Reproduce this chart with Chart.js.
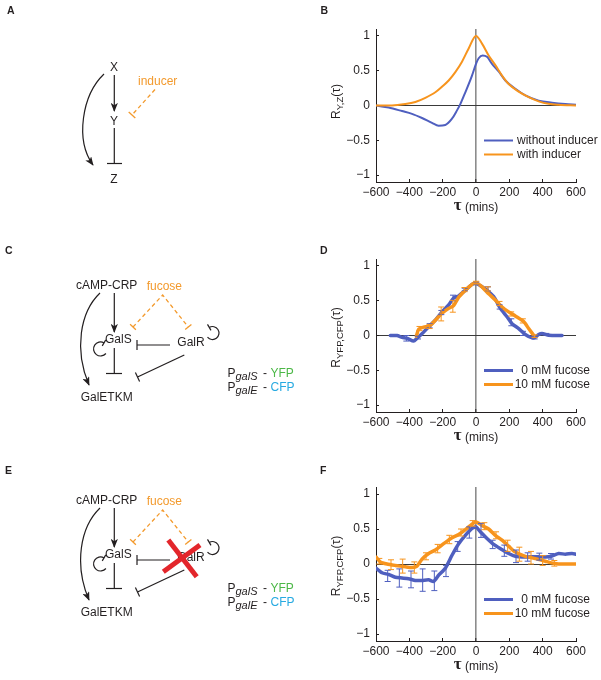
<!DOCTYPE html>
<html>
<head>
<meta charset="utf-8">
<script src="https://cdn.jsdelivr.net/npm/chart.js@4.4.1/dist/chart.umd.min.js"></script>
<style>
  body { margin: 0; background: #fff; }
  #page { position: relative; width: 601px; height: 680px; overflow: hidden; }
  canvas { position: absolute; left: 290px; }
  svg { position: absolute; left: 0; top: 0; pointer-events: none; }
</style>
</head>
<body>
<div id="page">
  <canvas id="chartB" width="311" height="221" style="top:1px"></canvas>
  <canvas id="chartD" width="311" height="221" style="top:231px"></canvas>
  <canvas id="chartF" width="311" height="222" style="top:459px"></canvas>

  <svg width="601" height="680" font-family="Liberation Sans, Arial, sans-serif" font-size="12" fill="#231f20">
    <defs>
      <marker id="arr" viewBox="0 0 10 8" refX="9" refY="4" markerWidth="9" markerHeight="7.5" orient="auto" markerUnits="userSpaceOnUse">
        <path d="M0,0 L10,4 L0,8 L2.5,4 z" fill="#231f20"/>
      </marker>
    </defs>

    <!-- panel letters -->
    <g font-weight="bold" font-size="10.5">
      <text x="7" y="14">A</text>
      <text x="320.5" y="13.5">B</text>
      <text x="5" y="254">C</text>
      <text x="320" y="254">D</text>
      <text x="5" y="474">E</text>
      <text x="320" y="474">F</text>
    </g>

    <!-- A: feed-forward loop -->
    <g stroke="#231f20" stroke-width="1.2" fill="none">
      <line x1="114.3" y1="75" x2="114.3" y2="111" marker-end="url(#arr)"/>
      <line x1="114.3" y1="128" x2="114.3" y2="163.5"/>
      <line x1="107" y1="163.5" x2="122" y2="163.5"/>
      <path d="M104,74 C82,95 75,140 93,165" marker-end="url(#arr)"/>
    </g>
    <g stroke="#f39a2d" stroke-width="1.3" fill="none">
      <line x1="155" y1="89.5" x2="132" y2="115" stroke-dasharray="4,3"/>
      <line x1="128.7" y1="112" x2="135.3" y2="118"/>
    </g>
    <g text-anchor="middle">
      <text x="114" y="71">X</text>
      <text x="114" y="124.5">Y</text>
      <text x="114" y="182.5">Z</text>
    </g>
    <text x="138" y="84.5" fill="#f39a2d">inducer</text>

    <!-- C: galactose network -->
    <g id="net">
      <g stroke="#231f20" stroke-width="1.2" fill="none">
        <line x1="114.3" y1="293" x2="114.3" y2="332" marker-end="url(#arr)"/>
        <path d="M100,293 C80,312 74,350 89,385" marker-end="url(#arr)"/>
        <line x1="114.3" y1="348" x2="114.3" y2="373.5"/>
        <line x1="106" y1="373.5" x2="122" y2="373.5"/>
        <path d="M105.9,353.5 A7,7 0 1 1 104,342.9"/>
        <line x1="105.75" y1="339.9" x2="102.25" y2="345.9"/>
        <path d="M207.5,337.2 A6.5,6.5 0 1 0 209.25,327.4"/>
        <line x1="207.5" y1="324.4" x2="211" y2="330.4"/>
        <line x1="170" y1="345" x2="137" y2="345"/>
        <line x1="137" y1="340" x2="137" y2="350"/>
        <line x1="184.3" y1="355" x2="137.5" y2="377"/>
        <line x1="135.4" y1="372.5" x2="139.6" y2="381.5"/>
      </g>
      <g stroke="#f39a2d" stroke-width="1.3" fill="none">
        <polyline points="133,327 162.7,295 188.3,327" stroke-dasharray="4,3"/>
        <line x1="130.1" y1="324.3" x2="135.9" y2="329.7"/>
        <line x1="185.2" y1="329.5" x2="191.4" y2="324.5"/>
      </g>
      <text x="106.7" y="289" text-anchor="middle">cAMP-CRP</text>
      <text x="146.7" y="290" fill="#f39a2d">fucose</text>
      <text x="105" y="342.5">GalS</text>
      <text x="177.3" y="346">GalR</text>
      <text x="106.7" y="401" text-anchor="middle">GalETKM</text>
      <text x="227.5" y="377.3">P</text>
      <text x="235.5" y="380.3" font-style="italic" font-size="11">galS</text>
      <text x="263" y="377.3">-</text>
      <text x="270.5" y="377.3" fill="#4db848">YFP</text>
      <text x="227.5" y="390.7">P</text>
      <text x="235.5" y="393.7" font-style="italic" font-size="11">galE</text>
      <text x="263" y="390.7">-</text>
      <text x="270.5" y="390.7" fill="#27aae1">CFP</text>
    </g>

    <!-- E: same network, galR deleted -->
    <use href="#net" y="215"/>
    <g stroke="#e3262b" stroke-width="5" stroke-linecap="butt">
      <line x1="168.3" y1="540" x2="196.7" y2="576.7"/>
      <line x1="163.3" y1="571.7" x2="200" y2="545"/>
    </g>
  </svg>
</div>

<script>
const blue = '#4f5fbf';
const orange = '#f7941d';
const ink = '#231f20';
const sans = '"Liberation Sans", Arial, sans-serif';

const xTicks = [-600, -400, -200, 0, 200, 400, 600];
const yTicks = [-1, -0.5, 0, 0.5, 1];

// B: model cross-correlation
const legendB = ['without inducer', 'with inducer'];
const tauB_without = [-600, -524, -444, -384, -324, -264, -224, -184, -144, -114, -94, -64, -24, 0, 16, 40, 66, 96, 136, 176, 236, 296, 376, 456, 536, 600];
const rB_without = [0, -0.03, -0.08, -0.12, -0.18, -0.25, -0.29, -0.28, -0.19, -0.07, 0.02, 0.19, 0.43, 0.6, 0.68, 0.72, 0.7, 0.6, 0.49, 0.36, 0.24, 0.145, 0.07, 0.04, 0.02, 0.01];
const tauB_with = [-600, -504, -424, -364, -304, -244, -204, -164, -124, -84, -44, 0, 36, 76, 116, 156, 196, 256, 316, 376, 436, 496, 600];
const rB_with = [0, 0, 0.02, 0.05, 0.11, 0.19, 0.27, 0.36, 0.48, 0.63, 0.82, 1.0, 0.89, 0.72, 0.58, 0.43, 0.31, 0.2, 0.12, 0.06, 0.024, 0.01, 0];

// D: wild type
const legendD = ['0 mM fucose', '10 mM fucose'];
const tauD_0 = [-514, -474, -444, -414, -374, -354, -324, -284, -244, -204, -164, -134, -104, -64, -24, 0, 36, 66, 106, 146, 186, 216, 256, 296, 346, 376, 396, 436, 516];
const rD_0 = [0, 0, -0.025, -0.04, -0.08, -0.04, 0.025, 0.125, 0.22, 0.34, 0.44, 0.54, 0.57, 0.65, 0.735, 0.75, 0.7, 0.65, 0.56, 0.39, 0.27, 0.17, 0.1, 0.015, -0.035, 0.015, 0.03, 0.005, 0];
const tauD_10 = [-358, -344, -314, -280, -244, -204, -164, -134, -104, -64, -24, 0, 36, 76, 116, 156, 196, 236, 286, 316, 350];
const rD_10 = [-0.01, 0.09, 0.12, 0.135, 0.22, 0.32, 0.39, 0.43, 0.55, 0.65, 0.735, 0.76, 0.7, 0.6, 0.51, 0.41, 0.34, 0.28, 0.2, 0.1, -0.01];
const errTauD_0 = [-418, -348, -278, -208, -138, -68, 2, 72, 142, 212, 282, 352, 422, 492];
const errMidD_0 = [-0.04, -0.03, 0.14, 0.33, 0.54, 0.66, 0.75, 0.67, 0.41, 0.19, 0.03, -0.03, 0.02, 0];
const errHalfD_0 = [0.04, 0.02, 0.03, 0.03, 0.04, 0.02, 0.02, 0.03, 0.03, 0.05, 0.03, 0.02, 0.01, 0.01];
const errTauD_10 = [-339, -279, -209, -139, -69, 1, 71, 141, 211, 281, 351];
const errMidD_10 = [0.1, 0.13, 0.31, 0.42, 0.66, 0.76, 0.67, 0.46, 0.31, 0.21, -0.01];
const errHalfD_10 = [0.03, 0.03, 0.1, 0.085, 0.03, 0.02, 0.03, 0.03, 0.03, 0.03, 0.02];

// F: galR deletion
const legendF = ['0 mM fucose', '10 mM fucose'];
const tauF_0 = [-600, -564, -524, -484, -444, -404, -364, -324, -284, -254, -224, -184, -144, -104, -64, -24, 0, 26, 66, 106, 146, 196, 236, 296, 356, 416, 456, 496, 536, 576, 600];
const rF_0 = [-0.06, -0.125, -0.15, -0.19, -0.2, -0.21, -0.235, -0.235, -0.225, -0.25, -0.16, -0.06, 0.125, 0.29, 0.41, 0.51, 0.53, 0.46, 0.365, 0.28, 0.22, 0.15, 0.11, 0.1, 0.105, 0.1, 0.115, 0.15, 0.14, 0.15, 0.14];
const tauF_10 = [-600, -574, -534, -484, -424, -384, -354, -324, -284, -244, -194, -144, -104, -64, -24, 0, 36, 76, 116, 156, 196, 236, 296, 356, 416, 466, 496, 600];
const rF_10 = [0.1, 0.03, 0, -0.02, -0.04, -0.05, -0.03, 0.07, 0.15, 0.2, 0.29, 0.375, 0.42, 0.49, 0.57, 0.6, 0.55, 0.5, 0.41, 0.34, 0.255, 0.17, 0.11, 0.077, 0.04, 0.01, 0, 0];
const errTauF_0 = [-530, -460, -390, -320, -250, -180, -110, -40, 30, 100, 170, 240, 310, 380, 450];
const errMidF_0 = [-0.17, -0.2, -0.22, -0.23, -0.24, -0.1, 0.25, 0.45, 0.48, 0.28, 0.19, 0.11, 0.1, 0.105, 0.11];
const errHalfF_0 = [0.08, 0.13, 0.12, 0.16, 0.14, 0.08, 0.07, 0.08, 0.1, 0.06, 0.08, 0.09, 0.06, 0.05, 0.04];
const errTauF_10 = [-580, -510, -440, -370, -300, -230, -160, -90, -20, 50, 120, 190, 260, 330, 400, 470];
const errMidF_10 = [0.04, -0.01, -0.03, -0.05, 0.11, 0.22, 0.35, 0.45, 0.58, 0.54, 0.41, 0.26, 0.14, 0.09, 0.05, 0.01];
const errHalfF_10 = [0.04, 0.07, 0.1, 0.08, 0.05, 0.06, 0.06, 0.05, 0.04, 0.05, 0.05, 0.08, 0.1, 0.09, 0.07, 0.04];

const fmt = v => (v < 0 ? '\u2212' + Math.abs(v) : String(v));
const points = (xs, ys) => xs.map((x, i) => ({ x: x, y: ys[i] }));

// error bars, legend and axis titles drawn on top of the chart
function overlay(opts) {
  return {
    id: 'overlay',
    afterDatasetsDraw(chart) {
      const ctx = chart.ctx, xs = chart.scales.x, ys = chart.scales.y;
      ctx.save();
      ctx.lineWidth = 1;
      (opts.errors || []).forEach(b => {
        ctx.strokeStyle = b.color;
        b.tau.forEach((t, i) => {
          const px = xs.getPixelForValue(t);
          const top = ys.getPixelForValue(b.mid[i] + b.half[i]);
          const bot = ys.getPixelForValue(b.mid[i] - b.half[i]);
          ctx.beginPath();
          ctx.moveTo(px, top); ctx.lineTo(px, bot);
          ctx.moveTo(px - 3, top); ctx.lineTo(px + 3, top);
          ctx.moveTo(px - 3, bot); ctx.lineTo(px + 3, bot);
          ctx.stroke();
        });
      });
      ctx.restore();
    },
    afterDraw(chart) {
      const ctx = chart.ctx, a = chart.chartArea;
      ctx.save();
      ctx.fillStyle = ink;

      // legend
      chart.data.datasets.forEach((ds, i) => {
        const y = a.bottom - 41.5 + i * 14;
        ctx.strokeStyle = ds.borderColor;
        ctx.lineWidth = opts.legendWidth;
        ctx.beginPath();
        ctx.moveTo(a.left + 108, y);
        ctx.lineTo(a.left + 137, y);
        ctx.stroke();
        ctx.font = '12px ' + sans;
        ctx.textBaseline = 'middle';
        if (opts.legendRight) {
          ctx.textAlign = 'right';
          ctx.fillText(ds.label, a.left + 214, y + 0.5);
        } else {
          ctx.textAlign = 'left';
          ctx.fillText(ds.label, a.left + 141, y + 0.5);
        }
      });

      // x title
      ctx.textAlign = 'left';
      ctx.textBaseline = 'alphabetic';
      const tauFont = 'bold 17px "Liberation Serif", serif';
      const restFont = '12px ' + sans;
      ctx.font = tauFont;
      const wTau = ctx.measureText('\u03c4').width;
      ctx.font = restFont;
      const wRest = ctx.measureText(' (mins)').width;
      const x0 = (a.left + a.right) / 2 - (wTau + wRest) / 2;
      ctx.font = tauFont;
      ctx.fillText('\u03c4', x0, a.bottom + 27.5);
      ctx.font = restFont;
      ctx.fillText(' (mins)', x0 + wTau, a.bottom + 28.5);

      // y title, rotated
      ctx.translate(a.left - 36, (a.top + a.bottom) / 2 + opts.titleShift);
      ctx.rotate(-Math.PI / 2);
      const big = '12px ' + sans, small = '9.5px ' + sans;
      ctx.font = big;
      const wR = ctx.measureText('R').width;
      const wP = ctx.measureText('(\u03c4)').width;
      ctx.font = small;
      const wS = ctx.measureText(opts.sub).width;
      const s0 = -(wR + wS + wP) / 2;
      ctx.font = big;
      ctx.fillText('R', s0, 0);
      ctx.fillText('(\u03c4)', s0 + wR + wS, 0);
      ctx.font = small;
      ctx.fillText(opts.sub, s0 + wR, 3);
      ctx.restore();
    }
  };
}

function axes() {
  const isZero = c => c.tick && c.tick.value === 0;
  return {
    x: {
      type: 'linear', min: -600, max: 600,
      afterBuildTicks: s => { s.ticks = xTicks.map(v => ({ value: v })); },
      afterFit: s => { s.height = 40; },
      ticks: { padding: 6, color: ink, font: { size: 12, family: sans }, callback: v => fmt(v) },
      grid: {
        color: c => isZero(c) ? '#8c8c8c' : 'rgba(0,0,0,0)',
        lineWidth: c => isZero(c) ? 1.6 : 1,
        tickColor: ink, tickLength: -3, tickWidth: 1
      },
      border: { color: ink, width: 1 }
    },
    y: {
      type: 'linear', min: -1.1, max: 1.1,
      afterBuildTicks: s => { s.ticks = yTicks.map(v => ({ value: v })); },
      afterFit: s => { s.width = 86; },
      ticks: { padding: 9, color: ink, font: { size: 12, family: sans }, callback: v => fmt(v) },
      grid: {
        color: c => isZero(c) ? '#3a3a3a' : 'rgba(0,0,0,0)',
        lineWidth: 1,
        tickColor: ink, tickLength: -3, tickWidth: 1
      },
      border: { color: ink, width: 1 }
    }
  };
}

function makeChart(id, series, opts) {
  return new Chart(document.getElementById(id), {
    type: 'line',
    data: {
      datasets: series.map(s => ({
        label: s.label,
        data: s.data,
        borderColor: s.color,
        borderWidth: s.width,
        pointRadius: 0,
        tension: s.tension,
        cubicInterpolationMode: s.mode,
        borderJoinStyle: 'round',
        borderCapStyle: 'round',
        order: s.order
      }))
    },
    options: {
      responsive: false,
      animation: false,
      layout: { padding: { top: 28, right: 25, left: 0, bottom: 0 } },
      plugins: { legend: { display: false }, tooltip: { enabled: false } },
      scales: axes()
    },
    plugins: [overlay(opts)]
  });
}

makeChart('chartB', [
  { label: legendB[0], data: points(tauB_without, rB_without), color: blue, width: 2, mode: 'monotone', tension: 0.4, order: 2 },
  { label: legendB[1], data: points(tauB_with, rB_with), color: orange, width: 2, mode: 'monotone', tension: 0.4, order: 1 }
], { sub: 'Y,Z', legendRight: false, legendWidth: 2, titleShift: -4 });

makeChart('chartD', [
  { label: legendD[0], data: points(tauD_0, rD_0), color: blue, width: 3.5, mode: 'default', tension: 0.2, order: 2 },
  { label: legendD[1], data: points(tauD_10, rD_10), color: orange, width: 3.5, mode: 'default', tension: 0.2, order: 1 }
], {
  sub: 'YFP,CFP', legendRight: true, legendWidth: 3, titleShift: 2,
  errors: [
    { color: blue, tau: errTauD_0, mid: errMidD_0, half: errHalfD_0 },
    { color: orange, tau: errTauD_10, mid: errMidD_10, half: errHalfD_10 }
  ]
});

makeChart('chartF', [
  { label: legendF[0], data: points(tauF_0, rF_0), color: blue, width: 3.5, mode: 'default', tension: 0.2, order: 2 },
  { label: legendF[1], data: points(tauF_10, rF_10), color: orange, width: 3.5, mode: 'default', tension: 0.2, order: 1 }
], {
  sub: 'YFP,CFP', legendRight: true, legendWidth: 3, titleShift: 2,
  errors: [
    { color: blue, tau: errTauF_0, mid: errMidF_0, half: errHalfF_0 },
    { color: orange, tau: errTauF_10, mid: errMidF_10, half: errHalfF_10 }
  ]
});
</script>
</body>
</html>
